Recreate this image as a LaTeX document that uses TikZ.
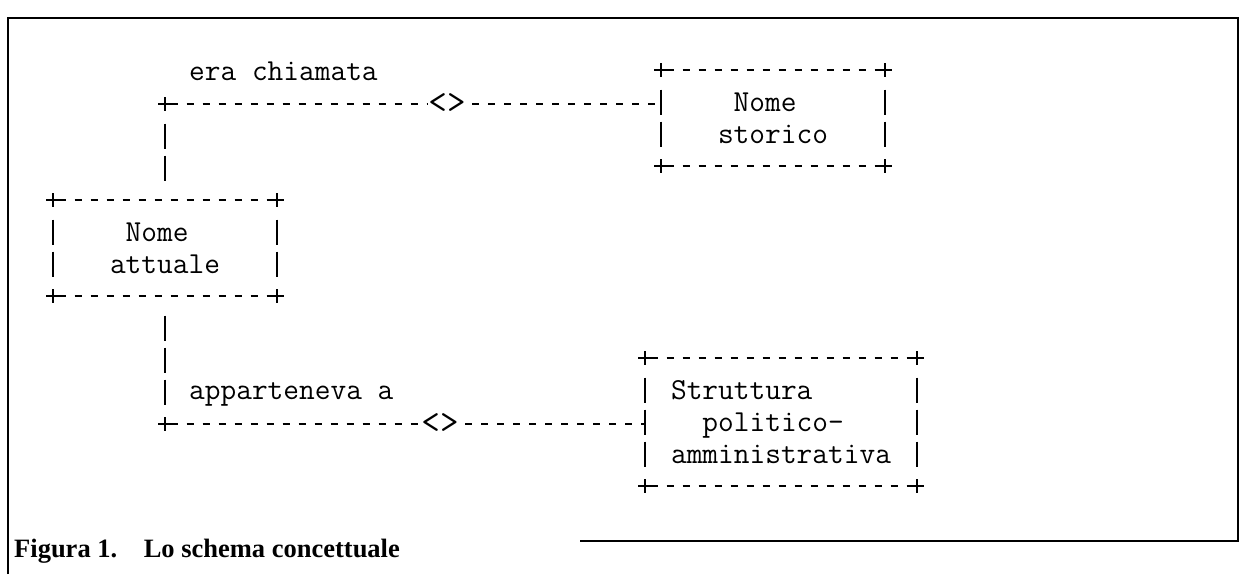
\documentclass[tikz,border=0pt]{standalone}
\usepackage{fontspec}
\newfontfamily\capfont{Liberation Serif}
\usetikzlibrary{positioning}

\tikzset{
	tt/.style={font=\ttfamily\fontsize{30.5}{32}\selectfont},
	ent/.style={tt, rectangle, inner sep=0pt, outer sep=0pt, align=left},
	rel/.style={font=\ttfamily\fontsize{36}{36}\selectfont, inner sep=1pt},
	lbl/.style={tt, inner sep=0pt, anchor=base west},
	hyph/.style={line width=2.4pt, dash pattern=on 7pt off 9pt, dash phase=10.5pt},
	bar/.style={line width=2pt, dash pattern=on 25pt off 7pt, shorten <=19.5pt, shorten >=19.5pt},
	cross/.style={line width=1.8pt}
}
% border of an entity, drawn as in a listing: + corners, - rows, | sides
\newcommand\asciibox[1]{%
	\draw[hyph] (#1.north west) -- (#1.north east);
	\draw[hyph] (#1.south west) -- (#1.south east);
	\draw[bar] (#1.north west) -- (#1.south west);
	\draw[bar] (#1.north east) -- (#1.south east);
	\foreach \c in {north west,north east,south west,south east}
		\draw[cross] (#1.\c) +(-7,0) -- +(7,0) +(0,-7) -- +(0,7);
}

\begin{document}
\begin{tikzpicture}[x=1pt, y=-1pt]
		\useasboundingbox (0,0) rectangle (1246,574);
		\draw[line width=1.6pt] (8,574) -- (8,18) -- (1238,18) -- (1238,541) -- (580,541);

		% entities
		\node[ent, minimum width=224pt, minimum height=96pt] (storico) at (773,118) {\ Nome\\storico};
		\node[ent, minimum width=224pt, minimum height=96pt] (attuale) at (165,248) {\ Nome\\attuale};
		\node[ent, minimum width=272pt, minimum height=128pt] (struttura) at (781,422) {Struttura\\\ \ politico-\\amministrativa};
		\asciibox{storico}
		\asciibox{attuale}
		\asciibox{struttura}

		% era chiamata
		\node[rel] (rel1) at (447,104) {<>};
		\coordinate (c1) at (165,104);
		\draw[bar] (c1) -- (attuale.north);
		\draw[hyph] (c1) -- (rel1);
		\draw[hyph] (rel1) -- (rel1 -| storico.west);
		\draw[cross] (c1) +(-7,0) -- +(7,0) +(0,-7) -- +(0,7);
		\node[lbl] (lab1) at (189,80) {era chiamata};

		% apparteneva a
		\node[rel] (rel2) at (440,424) {<>};
		\coordinate (c2) at (165,424);
		\draw[bar] (attuale.south) -- (c2);
		\draw[hyph] (c2) -- (rel2);
		\draw[hyph] (rel2) -- (rel2 -| struttura.west);
		\draw[cross] (c2) +(-7,0) -- +(7,0) +(0,-7) -- +(0,7);
		\node[lbl] (lab2) at (189,399) {apparteneva a};

		\node[anchor=base west, inner sep=0pt, font=\capfont\bfseries\fontsize{26.5}{30}\selectfont] (cap) at (14,557) {Figura 1.\hspace{1em}Lo schema concettuale};
	\end{tikzpicture}
\end{document}
